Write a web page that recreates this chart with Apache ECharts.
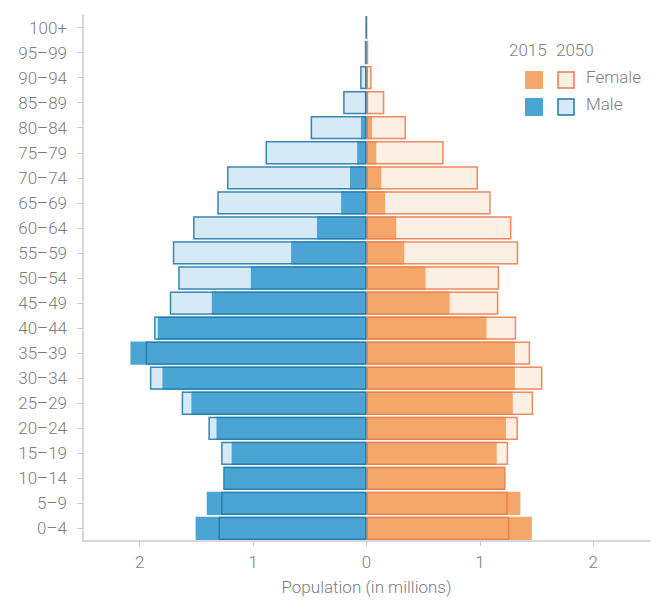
<!DOCTYPE html>
<html>
<head>
<meta charset="utf-8">
<script src="https://cdn.jsdelivr.net/npm/echarts@6/dist/echarts.min.js"></script>
<style>
html,body{margin:0;padding:0;background:#fff;}
#c{width:662px;height:603px;}
</style>
</head>
<body>
<div id="c"></div>
<script>
const ages = ['0–4','5–9','10–14','15–19','20–24','25–29','30–34','35–39','40–44','45–49','50–54','55–59','60–64','65–69','70–74','75–79','80–84','85–89','90–94','95–99','100+'];
const male2015 = [1.507,1.409,1.255,1.189,1.323,1.544,1.800,2.082,1.840,1.364,1.020,0.665,0.437,0.224,0.146,0.082,0.049,0.015,0.008,0.003,0.001];
const male2050 = [1.305,1.282,1.264,1.282,1.394,1.630,1.910,1.948,1.873,1.735,1.660,1.708,1.529,1.316,1.230,0.890,0.493,0.206,0.056,0.015,0.007];
const female2015 = [1.458,1.357,1.220,1.148,1.230,1.290,1.308,1.308,1.058,0.733,0.520,0.333,0.262,0.164,0.131,0.086,0.049,0.015,0.010,0.004,0.001];
const female2050 = [1.260,1.245,1.226,1.249,1.335,1.469,1.551,1.443,1.320,1.163,1.170,1.338,1.278,1.095,0.983,0.680,0.348,0.157,0.045,0.015,0.003];
const xTicks = [-2,-1,0,1,2];

const C = {
  maleSolid:'#4aa5d4', maleLight:'#d6eaf5', maleBorder:'#2277a6',
  femSolid:'#f5a669', femLight:'#fcefe3', femBorder:'#e97a4e',
  text:'#7d7d7d', axis:'#cccccc'
};
const FONT = 'Roboto, "Liberation Sans", sans-serif';
const neg = a => a.map(v => -v);

const chart = echarts.init(document.getElementById('c'), null, {renderer:'svg'});
const base = {type:'bar', barGap:'-100%', barCategoryGap:'7%', silent:true, animation:false};
chart.setOption({
  animation:false,
  grid:{left:83, right:12, top:15, bottom:62, containLabel:false},
  xAxis:{
    type:'value', min:-2.5, max:2.5,
    axisLine:{show:true, onZero:false, lineStyle:{color:C.axis, width:1.5}},
    axisTick:{show:true, customValues:xTicks, length:5, lineStyle:{color:C.axis}},
    splitLine:{show:false},
    axisLabel:{customValues:xTicks, formatter:v => String(Math.abs(v)), color:C.text, fontSize:17, fontFamily:FONT, fontWeight:300, margin:12},
    name:'Population (in millions)', nameLocation:'middle', nameGap:37,
    nameTextStyle:{color:C.text, fontSize:17, fontFamily:FONT, fontWeight:300}
  },
  yAxis:{
    type:'category', data:ages,
    axisLine:{show:true, onZero:false, lineStyle:{color:C.axis, width:1.5}},
    axisTick:{show:true, alignWithLabel:true, length:6, lineStyle:{color:C.axis}},
    axisLabel:{color:C.text, fontSize:17, fontFamily:FONT, fontWeight:300, margin:16, interval:0}
  },
  series:[
    Object.assign({}, base, {name:'Male 2050 fill', data:neg(male2050), itemStyle:{color:C.maleLight}}),
    Object.assign({}, base, {name:'Female 2050 fill', data:female2050, itemStyle:{color:C.femLight}}),
    Object.assign({}, base, {name:'Male 2015', data:neg(male2015), itemStyle:{color:C.maleSolid}}),
    Object.assign({}, base, {name:'Female 2015', data:female2015, itemStyle:{color:C.femSolid}}),
    Object.assign({}, base, {name:'Female 2050', data:female2050, itemStyle:{color:'rgba(0,0,0,0)', borderColor:C.femBorder, borderWidth:1.5, opacity:0.85}}),
    Object.assign({}, base, {name:'Male 2050', data:neg(male2050), itemStyle:{color:'rgba(0,0,0,0)', borderColor:C.maleBorder, borderWidth:1.5, opacity:0.85}})
  ],
  graphic:[
    {type:'text', left:509, top:41, style:{text:'2015', fill:C.text, font:'300 17px '+FONT}},
    {type:'text', left:556, top:41, style:{text:'2050', fill:C.text, font:'300 17px '+FONT}},
    {type:'rect', shape:{x:525, y:71, width:18, height:18}, style:{fill:C.femSolid}},
    {type:'rect', shape:{x:558, y:72, width:16, height:16}, style:{fill:C.femLight, stroke:C.femBorder, lineWidth:1.5}},
    {type:'text', left:586, top:68, style:{text:'Female', fill:C.text, font:'300 17px '+FONT}},
    {type:'rect', shape:{x:525, y:98, width:18, height:18}, style:{fill:C.maleSolid}},
    {type:'rect', shape:{x:558, y:99, width:16, height:16}, style:{fill:C.maleLight, stroke:C.maleBorder, lineWidth:1.5}},
    {type:'text', left:586, top:95, style:{text:'Male', fill:C.text, font:'300 17px '+FONT}}
  ]
});
</script>
</body>
</html>
